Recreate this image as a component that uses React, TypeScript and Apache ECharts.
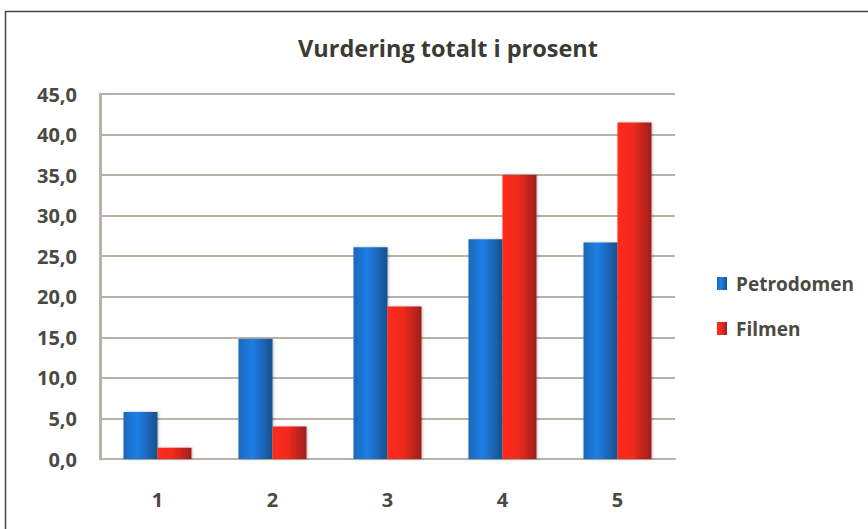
import React, { useEffect, useRef } from "react";
import * as echarts from "echarts";

const categories = ["1", "2", "3", "4", "5"];
const petrodomen = [5.8, 14.8, 26.1, 27.1, 26.7];
const filmen = [1.4, 4.0, 18.8, 35.0, 41.5];
const seriesNames = ["Petrodomen", "Filmen"];

export default function App() {
  const ref = useRef<HTMLDivElement>(null);
  useEffect(() => {
    if (!ref.current) return;
    const chart = echarts.init(ref.current, undefined, { renderer: "svg" });
    const blue = new echarts.graphic.LinearGradient(0, 0, 1, 0, [
      { offset: 0, color: "#1d68b8" },
      { offset: 0.4, color: "#1f7fe6" },
      { offset: 1, color: "#17508f" },
    ]);
    const red = new echarts.graphic.LinearGradient(0, 0, 1, 0, [
      { offset: 0, color: "#ff2c1c" },
      { offset: 0.45, color: "#f02a1e" },
      { offset: 1, color: "#a01e1e" },
    ]);
    chart.setOption({
      animation: false,
      backgroundColor: "#ffffff",
      title: {
        text: "Vurdering totalt i prosent",
        left: 443,
        textAlign: "center",
        top: 31,
        textStyle: {
          fontFamily: "Open Sans",
          fontWeight: "bold",
          fontSize: 23.5,
          color: "#3b3b33",
        },
      },
      graphic: [
        {
          type: "rect",
          shape: { x: 5.5, y: 11.5, width: 900, height: 600 },
          style: { fill: "none", stroke: "#444", lineWidth: 1.5 },
          silent: true,
          z: 100,
        },
      ],
      legend: {
        orient: "vertical",
        left: 712,
        top: 269,
        itemWidth: 10,
        itemHeight: 13,
        itemGap: 26,
        icon: "rect",
        textStyle: {
          fontFamily: "Open Sans",
          fontWeight: "bold",
          fontSize: 19,
          color: "#4a4a42",
          padding: [0, 0, 0, 4],
        },
        data: seriesNames,
      },
      grid: { left: 100, right: 193, top: 94, bottom: 70 },
      xAxis: {
        type: "category",
        data: categories,
        axisTick: { show: false },
        axisLine: { lineStyle: { color: "#b7b3a6", width: 2 } },
        axisLabel: {
          margin: 30,
          fontFamily: "Open Sans",
          fontWeight: "bold",
          fontSize: 20,
          color: "#4a4a42",
        },
      },
      yAxis: {
        type: "value",
        min: 0,
        max: 45,
        interval: 5,
        axisLine: { show: true, lineStyle: { color: "#b7b3a6", width: 3 } },
        axisTick: { show: false },
        splitLine: { lineStyle: { color: "#b7b3a6", width: 2 } },
        axisLabel: {
          margin: 23,
          fontFamily: "Open Sans",
          fontWeight: "bold",
          fontSize: 20,
          color: "#4a4a42",
          formatter: (v: number) => v.toFixed(1).replace(".", ","),
        },
      },
      series: [
        {
          name: seriesNames[0],
          type: "bar",
          data: petrodomen,
          barWidth: 34,
          barGap: "0%",
          itemStyle: { color: blue, shadowColor: "rgba(0,0,0,0.25)", shadowBlur: 3, shadowOffsetX: 1 },
        },
        {
          name: seriesNames[1],
          type: "bar",
          data: filmen,
          barWidth: 34,
          barGap: "0%",
          itemStyle: { color: red, shadowColor: "rgba(0,0,0,0.25)", shadowBlur: 3, shadowOffsetX: 1 },
        },
      ],
    });
    return () => chart.dispose();
  }, []);
  return (
    <div
      ref={ref}
      style={{ position: "fixed", left: 0, top: 0, width: 868, height: 529 }}
    />
  );
}
